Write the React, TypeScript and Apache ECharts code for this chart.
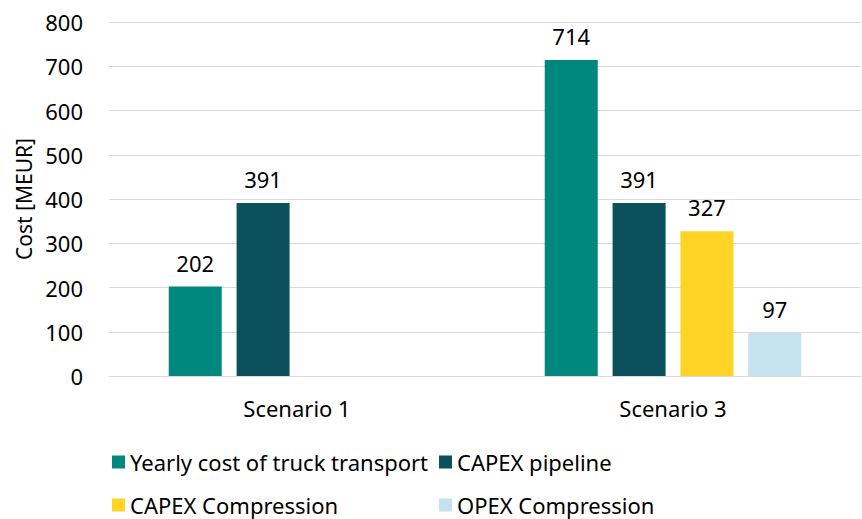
import React, { useEffect, useRef } from "react";
import * as echarts from "echarts";

const categories = ["Scenario 1", "Scenario 3"];
const seriesNames = [
  "Yearly cost of truck transport",
  "CAPEX pipeline",
  "CAPEX Compression",
  "OPEX Compression",
];
const truckTransport = [202, 714];
const capexPipeline = [391, 391];
const capexCompression = [null, 327];
const opexCompression = [null, 97];
const colors = ["#00887F", "#0C505B", "#FFD424", "#C4E3EE"];

const FONT = "Noto Sans";

export default function App() {
  const ref = useRef<HTMLDivElement>(null);
  useEffect(() => {
    if (!ref.current) return;
    const chart = echarts.init(ref.current, null, { renderer: "svg" });
    const values = [truckTransport, capexPipeline, capexCompression, opexCompression];
    const legendPos = [
      { left: 112, top: 451 },
      { left: 439, top: 451 },
      { left: 112, top: 494 },
      { left: 439, top: 494 },
    ];
    chart.setOption({
      animation: false,
      color: colors,
      textStyle: { fontFamily: FONT },
      grid: { left: 109, right: 1, top: 22, bottom: 143, containLabel: false },
      legend: seriesNames.map((n, i) => ({
        data: [n],
        left: legendPos[i].left,
        top: legendPos[i].top,
        padding: 0,
        itemWidth: 13,
        itemHeight: 13,
        icon: "rect",
        itemGap: 6,
        textStyle: { fontFamily: FONT, fontSize: 22, color: "#000", lineHeight: 22 },
      })),
      xAxis: {
        type: "category",
        data: categories,
        axisLine: { show: true, lineStyle: { color: "#d9d9d9", width: 1 } },
        axisTick: { show: false },
        axisLabel: { fontFamily: FONT, fontSize: 22, color: "#000", margin: 21 },
      },
      yAxis: {
        type: "value",
        min: 0,
        max: 800,
        interval: 100,
        name: "Cost [MEUR]",
        nameLocation: "middle",
        nameGap: 72,
        nameTextStyle: { fontFamily: FONT, fontSize: 21, color: "#000" },
        axisLine: { show: false },
        axisTick: { show: false },
        axisLabel: { fontFamily: FONT, fontSize: 22, color: "#000", margin: 26 },
        splitLine: { lineStyle: { color: "#d9d9d9", width: 1 } },
      },
      series: seriesNames.map((n, i) => ({
        name: n,
        type: "bar",
        data: values[i],
        barWidth: 53,
        barGap: "28%",
        itemStyle: { color: colors[i] },
        label: {
          show: true,
          position: "top",
          distance: 13,
          fontFamily: FONT,
          fontSize: 22,
          color: "#000",
        },
      })),
    });
    return () => chart.dispose();
  }, []);
  return <div ref={ref} style={{ width: 862, height: 519, position: "absolute", left: 0, top: 0 }} />;
}
